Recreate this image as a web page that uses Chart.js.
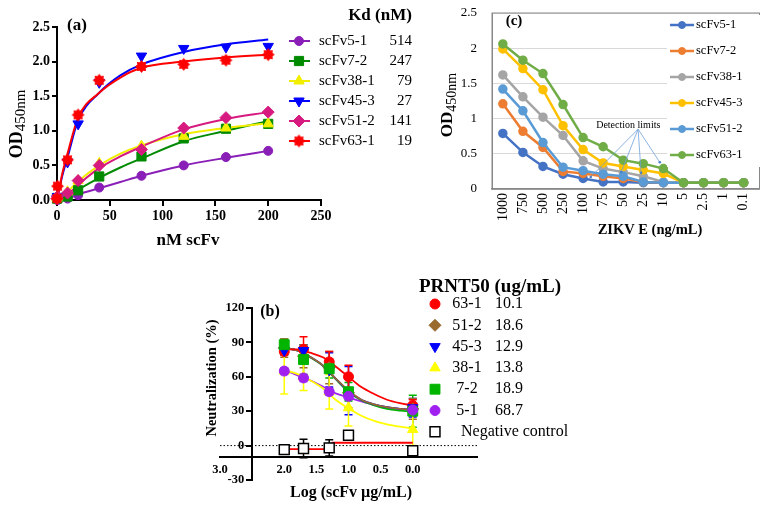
<!DOCTYPE html>
<html>
<head>
<meta charset="utf-8">
<script src="https://cdn.jsdelivr.net/npm/chart.js@4.4.0/dist/chart.umd.min.js"></script>
<style>
    html, body { margin: 0; padding: 0; background: #fff; }
    #wrap { position: relative; width: 766px; height: 506px; overflow: hidden; }
    #wrap canvas { position: absolute; left: 0; top: 0; }
</style>
</head>
<body>
<div id="wrap">
    <canvas id="chartA" width="766" height="506"></canvas>
    <canvas id="chartC" width="766" height="506"></canvas>
    <canvas id="chartB" width="766" height="506"></canvas>
</div>
<script>
// ============================================================================
// DATA
// ============================================================================

// (a) binding curves, OD450 vs nM scFv
const bindConc = [0, 0.5, 10, 20, 40, 80, 120, 160, 200];
const bind51  = [0.01, 0.00, 0.02, 0.07, 0.18, 0.35, 0.50, 0.62, 0.71];
const bind72  = [0.02, 0.03, 0.05, 0.14, 0.34, 0.63, 0.89, 1.03, 1.10];
const bind381 = [0.03, 0.05, 0.12, 0.28, 0.53, 0.78, 0.92, 1.04, 1.10];
const bind453 = [0.02, 0.05, 0.55, 1.10, 1.70, 2.08, 2.19, 2.21, 2.22];
const bind512 = [0.02, 0.05, 0.10, 0.28, 0.50, 0.73, 1.04, 1.19, 1.27];
const bind631 = [0.02, 0.20, 0.58, 1.23, 1.73, 1.93, 1.96, 2.02, 2.10];

// fitted curves
const fitConc = [0, 5, 10, 20, 40, 60, 80, 120, 160, 200];
const fit51  = [0, 0.01, 0.02, 0.08, 0.17, 0.26, 0.35, 0.50, 0.61, 0.71];
const fit72  = [0, 0.03, 0.06, 0.15, 0.32, 0.47, 0.60, 0.85, 1.00, 1.14];
const fit381 = [0, 0.06, 0.12, 0.27, 0.50, 0.67, 0.79, 0.95, 1.04, 1.11];
const fit453 = [0, 0.35, 0.62, 1.15, 1.55, 1.80, 1.96, 2.14, 2.25, 2.32];
const fit512 = [0, 0.04, 0.08, 0.22, 0.46, 0.63, 0.77, 1.02, 1.17, 1.27];
const fit631 = [0, 0.38, 0.67, 1.19, 1.55, 1.77, 1.91, 2.00, 2.06, 2.10];

const kdNames  = ['scFv5-1', 'scFv7-2', 'scFv38-1', 'scFv45-3', 'scFv51-2', 'scFv63-1'];
const kdValues = ['514', '247', '79', '27', '141', '19'];

// (c) OD450 vs ZIKV E
const zikvLabels = ['1000', '750', '500', '250', '100', '75', '50', '25', '10', '5', '2.5', '1', '0.1'];
const zikv51  = [0.79, 0.52, 0.32, 0.21, 0.15, 0.10, 0.10, 0.09, 0.09, 0.09, 0.09, 0.09, 0.09];
const zikv72  = [1.21, 0.82, 0.59, 0.25, 0.22, 0.18, 0.15, 0.10, 0.09, 0.09, 0.09, 0.09, 0.09];
const zikv381 = [1.62, 1.31, 1.02, 0.76, 0.40, 0.29, 0.24, 0.18, 0.10, 0.09, 0.09, 0.09, 0.09];
const zikv453 = [1.99, 1.71, 1.41, 0.90, 0.56, 0.37, 0.32, 0.27, 0.22, 0.09, 0.09, 0.09, 0.09];
const zikv512 = [1.42, 1.11, 0.66, 0.31, 0.26, 0.21, 0.18, 0.10, 0.09, 0.09, 0.09, 0.09, 0.09];
const zikv631 = [2.06, 1.83, 1.64, 1.20, 0.73, 0.60, 0.41, 0.36, 0.29, 0.09, 0.09, 0.09, 0.09];

// (b) neutralization (%) vs log conc
const logConc  = [2.0, 1.7, 1.3, 1.0, 0.0];
const neut631  = [82, 84, 73, 60, 35];
const err631   = [3, 11, 9, 10, 5];
const neut512  = [85, 78, 68, 46, 32];
const err512   = [8, 10, 14, 13, 9];
const neut453  = [83, 83, 66, 48, 33];
const err453   = [4, 5, 15, 21, 8];
const neut381  = [65, 60, 47, 33, 14];
const err381   = [20, 12, 15, 16, 14];
const neut72   = [88, 75, 67, 47, 30];
const err72    = [5, 13, 8, 8, 14];
const neut51   = [65, 59, 47, 43, 31];
const err51    = [3, 3, 3, 3, 3];
const negCtrl  = [-3.5, -2.5, -2, 9, -4.5];
const errNeg   = [4, 8, 7, 0, 0];

const fitLog   = [2.0, 1.8, 1.6, 1.4, 1.2, 1.0, 0.8, 0.6, 0.4, 0.2, 0.0];
const fitN631  = [84, 84, 81, 77, 69, 60, 51, 45, 40, 37, 35];
const fitN512  = [85, 83, 77.5, 70, 58.5, 48, 40, 36, 33.5, 32, 31];
const fitN453  = [85, 83, 77.5, 70, 58.5, 47.5, 40, 36, 33.5, 32, 31];
const fitN381  = [66, 62.5, 57, 50, 40, 32.5, 26, 21.5, 18.5, 16.5, 15];
const fitN72   = [85, 83, 77, 69.5, 58, 47, 39.5, 35, 32, 30.5, 29.5];
const fitN51   = [66, 61.5, 57, 51.5, 45.5, 42, 38.5, 35.5, 33.5, 32, 31];
const negFitLog = [2.0, 1.3, 1.25, 0.0];
const negFit    = [-3, -3, 2.5, 2.5];

const prntNames  = ['63-1', '51-2', '45-3', '38-1', '7-2', '5-1', 'Negative control'];
const prntValues = ['10.1', '18.6', '12.9', '13.8', '18.9', '68.7', ''];

const xTicksB = [3, 2, 1.5, 1, 0.5, 0];

// ============================================================================
// HELPERS
// ============================================================================

const SERIF = '"Liberation Serif", "Times New Roman", serif';
Chart.defaults.font.family = SERIF;
Chart.defaults.color = '#000';
Chart.defaults.animation = false;

const toXY = (xs, ys) => xs.map((x, i) => ({ x: x, y: ys[i] }));

function starImage(color, r) {
    const c = document.createElement('canvas');
    const s = Math.ceil(r * 2) + 2;
    c.width = c.height = s;
    const g = c.getContext('2d');
    g.fillStyle = color;
    g.beginPath();
    for (let i = 0; i < 16; i++) {
        const a = i * Math.PI / 8;
        const rr = i % 2 ? r * 0.7 : r;
        g.lineTo(s / 2 + rr * Math.cos(a), s / 2 + rr * Math.sin(a));
    }
    g.closePath();
    g.fill();
    return c;
}

function drawText(ctx, t) {
    ctx.save();
    ctx.translate(t.x, t.y);
    if (t.rotate) ctx.rotate(t.rotate);
    ctx.fillStyle = '#000';
    ctx.textBaseline = 'middle';
    const parts = [{ text: t.text, font: t.font, dy: 0 }];
    if (t.sub) parts.push({ text: t.sub, font: t.subFont, dy: t.subDy || 4 });
    let total = 0;
    parts.forEach(p => { ctx.font = p.font; p.w = ctx.measureText(p.text).width; total += p.w; });
    let x = t.align === 'left' ? 0 : (t.align === 'right' ? -total : -total / 2);
    parts.forEach(p => {
        ctx.font = p.font;
        ctx.textAlign = 'left';
        ctx.fillText(p.text, x, p.dy);
        x += p.w;
    });
    ctx.restore();
}

function marker(ctx, s, x, y) {
    ctx.save();
    ctx.fillStyle = s.fill || s.color;
    ctx.strokeStyle = s.stroke || s.color;
    ctx.lineWidth = s.bw || 1;
    Chart.helpers.drawPoint(ctx, { pointStyle: s.style, rotation: s.rot || 0, radius: s.r, borderWidth: s.bw || 1 }, x, y);
    ctx.restore();
}

function fixSize(size) {
    return scale => {
        scale.paddingLeft = scale.paddingRight = scale.paddingTop = scale.paddingBottom = 0;
        if (scale.isHorizontal()) scale.height = size; else scale.width = size;
    };
}

// ============================================================================
// PANEL (a)
// ============================================================================

const seriesA = [
    { pts: bind51,  fit: fit51,  color: '#8a1fb8', style: 'circle',   r: 4.5 },
    { pts: bind72,  fit: fit72,  color: '#008a00', style: 'rect',     r: 6.5 },
    { pts: bind381, fit: fit381, color: '#f2ee00', style: 'triangle', r: 6 },
    { pts: bind453, fit: fit453, color: '#0000ff', style: 'triangle', r: 6, rot: 180 },
    { pts: bind512, fit: fit512, color: '#d61a7f', style: 'rectRot',  r: 6 },
    { pts: bind631, fit: fit631, color: '#ff0000', style: starImage('#ff0000', 6.5), r: 6.5 }
];

const dsA = [];
seriesA.slice().reverse().forEach(s => dsA.push({
    data: toXY(bindConc, s.pts), showLine: false, clip: false,
    pointStyle: s.style, pointRadius: s.r, pointRotation: s.rot || 0,
    backgroundColor: s.color, borderColor: s.color, borderWidth: 1
}));
seriesA.slice().reverse().forEach(s => dsA.push({
    data: toXY(fitConc, s.fit), showLine: true, pointRadius: 0,
    borderColor: s.color, borderWidth: 2, cubicInterpolationMode: 'monotone'
}));

new Chart(document.getElementById('chartA'), {
    type: 'scatter',
    data: { datasets: dsA },
    options: {
        responsive: false,
        layout: { padding: { left: 0, right: 445, top: 27, bottom: 246 } },
        plugins: { legend: { display: false }, tooltip: { enabled: false } },
        scales: {
            x: {
                type: 'linear', min: 0, max: 250,
                ticks: { stepSize: 50, padding: 2, font: { size: 14, weight: 'bold' } },
                grid: { drawOnChartArea: false, tickLength: 6, lineWidth: 2, color: '#000' },
                border: { color: '#000', width: 2 },
                afterFit: fixSize(60)
            },
            y: {
                min: 0, max: 2.5,
                ticks: { stepSize: 0.5, padding: 2, font: { size: 14, weight: 'bold' }, callback: v => v.toFixed(1) },
                grid: { drawOnChartArea: false, tickLength: 5, lineWidth: 2, color: '#000' },
                border: { color: '#000', width: 2 },
                afterFit: fixSize(57)
            }
        }
    },
    plugins: [{
        id: 'panelA',
        afterDraw(chart) {
            const ctx = chart.ctx;
            drawText(ctx, { text: '(a)', x: 77, y: 26, font: 'bold 17px ' + SERIF });
            drawText(ctx, { text: 'nM scFv', x: 188, y: 241, font: 'bold 17px ' + SERIF });
            drawText(ctx, { text: 'OD', sub: '450nm', x: 17, y: 124, rotate: -Math.PI / 2,
                font: 'bold 18px ' + SERIF, subFont: '15px ' + SERIF, subDy: 4 });
            drawText(ctx, { text: 'Kd (nM)', x: 380, y: 16, font: 'bold 17px ' + SERIF });
            seriesA.forEach((s, i) => {
                const y = 41 + i * 20;
                ctx.save();
                ctx.strokeStyle = s.color;
                ctx.lineWidth = 2;
                ctx.beginPath(); ctx.moveTo(289, y); ctx.lineTo(310, y); ctx.stroke();
                ctx.restore();
                marker(ctx, s, 299, y);
                drawText(ctx, { text: kdNames[i], x: 319, y: y, align: 'left', font: '15px ' + SERIF });
                drawText(ctx, { text: kdValues[i], x: 412, y: y, align: 'right', font: '15px ' + SERIF });
            });
        }
    }]
});

// ============================================================================
// PANEL (c)
// ============================================================================

const seriesC = [
    { vals: zikv51,  color: '#4472c4' },
    { vals: zikv72,  color: '#ed7d31' },
    { vals: zikv381, color: '#a5a5a5' },
    { vals: zikv453, color: '#ffc000' },
    { vals: zikv512, color: '#5b9bd5' },
    { vals: zikv631, color: '#70ad47' }
];
const zikvIdx = zikvLabels.map((l, i) => i);

new Chart(document.getElementById('chartC'), {
    type: 'scatter',
    data: {
        datasets: seriesC.map((s, i) => ({
            data: toXY(zikvIdx, s.vals), showLine: true, order: -i,
            borderColor: s.color, borderWidth: 2.5,
            pointRadius: 3.5, pointBackgroundColor: s.color, pointBorderColor: s.color
        }))
    },
    options: {
        responsive: false,
        layout: { padding: { left: 0, right: 3, top: 13, bottom: 0 } },
        plugins: { legend: { display: false }, tooltip: { enabled: false } },
        scales: {
            x: {
                type: 'linear', min: -0.54, max: 12.79,
                afterBuildTicks: s => { s.ticks = zikvIdx.map(v => ({ value: v })); },
                ticks: { autoSkip: false, minRotation: 90, maxRotation: 90, padding: 4,
                    font: { size: 14 }, callback: v => zikvLabels[v] },
                grid: { display: false, drawTicks: false },
                border: { color: '#888', width: 1.5 },
                afterFit: fixSize(317)
            },
            y: {
                min: 0, max: 2.5,
                ticks: { stepSize: 0.5, padding: 15, font: { size: 13 }, callback: v => String(+v.toFixed(1)) },
                grid: { color: '#d9d9d9', lineWidth: 1, drawTicks: false },
                border: { color: '#888', width: 1 },
                afterFit: fixSize(492)
            }
        }
    },
    plugins: [{
        id: 'panelC',
        afterDraw(chart) {
            const ctx = chart.ctx;
            const a = chart.chartArea;
            const xs = chart.scales.x, ys = chart.scales.y;
            ctx.save();
            ctx.strokeStyle = '#888';
            ctx.lineWidth = 1;
            ctx.strokeRect(a.left, a.top, a.right - a.left, a.bottom - a.top);

            // "Detection limits" call-out
            const hub = [xs.getPixelForValue(6.74), ys.getPixelForValue(0.85)];
            const ends = [[4.38, 0.17], [5.9, 0.24], [6.89, 0.23], [7.82, 0.38]];
            ctx.strokeStyle = '#6e9fd8';
            ctx.fillStyle = '#4a7fc8';
            ctx.lineWidth = 0.8;
            ends.forEach(e => {
                const px = xs.getPixelForValue(e[0]), py = ys.getPixelForValue(e[1]);
                ctx.beginPath(); ctx.moveTo(hub[0], hub[1]); ctx.lineTo(px, py); ctx.stroke();
                ctx.beginPath(); ctx.arc(px, py, 1.3, 0, Math.PI * 2); ctx.fill();
            });
            ctx.restore();
            drawText(ctx, { text: 'Detection limits', x: xs.getPixelForValue(6.25), y: ys.getPixelForValue(0.9),
                font: '10px ' + SERIF });

            // legend box
            ctx.save();
            ctx.fillStyle = '#fff';
            ctx.fillRect(667, 15, 93, 152);
            ctx.restore();
            seriesC.forEach((s, i) => {
                const y = 25 + i * 26;
                ctx.save();
                ctx.strokeStyle = s.color;
                ctx.lineWidth = 2.5;
                ctx.beginPath(); ctx.moveTo(670, y); ctx.lineTo(694, y); ctx.stroke();
                ctx.restore();
                marker(ctx, { color: s.color, style: 'circle', r: 3.5 }, 682, y);
                drawText(ctx, { text: kdNames[i], x: 696, y: y, align: 'left', font: '12.5px ' + SERIF });
            });

            drawText(ctx, { text: '(c)', x: 514, y: 21, font: 'bold 15px ' + SERIF });
            drawText(ctx, { text: 'ZIKV E (ng/mL)', x: 650, y: 230, font: 'bold 14.5px ' + SERIF });
            drawText(ctx, { text: 'OD', sub: '450nm', x: 448, y: 105, rotate: -Math.PI / 2,
                font: 'bold 17px ' + SERIF, subFont: '14px ' + SERIF, subDy: 4 });
        }
    }]
});

// ============================================================================
// PANEL (b)
// ============================================================================

const seriesB = [
    { pts: neut631, err: err631, fit: fitN631, color: '#ff0000', style: 'circle',   r: 5 },
    { pts: neut512, err: err512, fit: fitN512, color: '#9a6a2e', style: 'rectRot',  r: 6 },
    { pts: neut453, err: err453, fit: fitN453, color: '#0000ff', style: 'triangle', r: 6, rot: 180 },
    { pts: neut381, err: err381, fit: fitN381, color: '#ffff00', style: 'triangle', r: 6 },
    { pts: neut72,  err: err72,  fit: fitN72,  color: '#00b400', style: 'rect',     r: 7 },
    { pts: neut51,  err: err51,  fit: fitN51,  color: '#a020f0', style: 'circle',   r: 5 }
];
const negStyle = { color: '#000', fill: '#fff', stroke: '#000', style: 'rect', r: 7, bw: 1.5 };

// top-most first
const drawOrderB = [5, 4, 2, 1, 3, 0];
const dsB = [];
drawOrderB.forEach(k => {
    const s = seriesB[k];
    dsB.push({
        data: toXY(logConc, s.pts), showLine: false, clip: false, errorBars: s.err, barColor: s.color,
        pointStyle: s.style, pointRadius: s.r, pointRotation: s.rot || 0,
        backgroundColor: s.color, borderColor: s.color, borderWidth: 1
    });
});
dsB.push({
    data: toXY(logConc, negCtrl), showLine: false, clip: false, errorBars: errNeg, barColor: '#000',
    pointStyle: 'rect', pointRadius: negStyle.r, backgroundColor: '#fff', borderColor: '#000', borderWidth: 1.5
});
seriesB.forEach(s => dsB.push({
    data: toXY(fitLog, s.fit), showLine: true, pointRadius: 0,
    borderColor: s.color, borderWidth: 1.8, cubicInterpolationMode: 'monotone'
}));
dsB.push({ data: toXY(negFitLog, negFit), showLine: true, pointRadius: 0, borderColor: '#ff0000', borderWidth: 1.8 });
dsB.push({ data: toXY([3, -1], [0, 0]), showLine: true, pointRadius: 0, borderColor: '#000', borderWidth: 1, borderDash: [1.5, 2] });

new Chart(document.getElementById('chartB'), {
    type: 'scatter',
    data: { datasets: dsB },
    options: {
        responsive: false,
        layout: { padding: { left: 220, right: 289, top: 308, bottom: 26 } },
        plugins: { legend: { display: false }, tooltip: { enabled: false } },
        scales: {
            x: {
                type: 'linear', min: -1, max: 3, reverse: true, position: { y: -10 },
                afterBuildTicks: s => { s.ticks = xTicksB.map(v => ({ value: v })); },
                ticks: { padding: 5, font: { size: 12.5, weight: 'bold' }, callback: v => v.toFixed(1) },
                grid: { display: false, drawTicks: false },
                border: { color: '#000', width: 2 },
                afterFit: fixSize(20)
            },
            y: {
                min: -30, max: 120, position: { x: 2.5 },
                // labels are drawn by the plugin below, left of the axis line
                ticks: { stepSize: 30, display: false },
                grid: { drawOnChartArea: false, tickLength: 5, lineWidth: 2, color: '#000' },
                border: { color: '#000', width: 2 },
                afterFit: fixSize(30)
            }
        }
    },
    plugins: [{
        id: 'errorBarsB',
        beforeDatasetsDraw(chart) {
            const ctx = chart.ctx;
            const ys = chart.scales.y;
            chart.data.datasets.forEach((ds, di) => {
                if (!ds.errorBars) return;
                const meta = chart.getDatasetMeta(di);
                ctx.save();
                ctx.strokeStyle = ds.barColor;
                ctx.lineWidth = 1.5;
                meta.data.forEach((pt, i) => {
                    const e = ds.errorBars[i];
                    if (!e) return;
                    const v = ds.data[i].y;
                    const top = ys.getPixelForValue(v + e), bot = ys.getPixelForValue(v - e);
                    ctx.beginPath();
                    ctx.moveTo(pt.x, top); ctx.lineTo(pt.x, bot);
                    ctx.moveTo(pt.x - 4, top); ctx.lineTo(pt.x + 4, top);
                    ctx.moveTo(pt.x - 4, bot); ctx.lineTo(pt.x + 4, bot);
                    ctx.stroke();
                });
                ctx.restore();
            });
        },
        afterDraw(chart) {
            const ctx = chart.ctx;
            const ys = chart.scales.y;
            const axisX = chart.scales.x.getPixelForValue(2.5);
            ys.ticks.forEach(t => drawText(ctx, { text: String(t.value), x: axisX - 8, y: ys.getPixelForValue(t.value),
                align: 'right', font: 'bold 12.5px ' + SERIF }));

            drawText(ctx, { text: '(b)', x: 270, y: 312, font: 'bold 16px ' + SERIF });
            drawText(ctx, { text: 'Log (scFv \u00b5g/mL)', x: 351, y: 493, font: 'bold 16px ' + SERIF });
            drawText(ctx, { text: 'Neutralization (%)', x: 212, y: 378, rotate: -Math.PI / 2, font: 'bold 14.5px ' + SERIF });
            drawText(ctx, { text: 'PRNT50 (ug/mL)', x: 490, y: 287, font: 'bold 19px ' + SERIF });
            prntNames.forEach((name, i) => {
                const y = 304 + i * 21.3;
                const s = i < seriesB.length ? seriesB[i] : negStyle;
                marker(ctx, s, 435, y);
                if (prntValues[i]) {
                    drawText(ctx, { text: name, x: 467, y: y, font: '16px ' + SERIF });
                    drawText(ctx, { text: prntValues[i], x: 495, y: y, align: 'left', font: '16px ' + SERIF });
                } else {
                    drawText(ctx, { text: name, x: 461, y: y, align: 'left', font: '16px ' + SERIF });
                }
            });
        }
    }]
});
</script>
</body>
</html>
